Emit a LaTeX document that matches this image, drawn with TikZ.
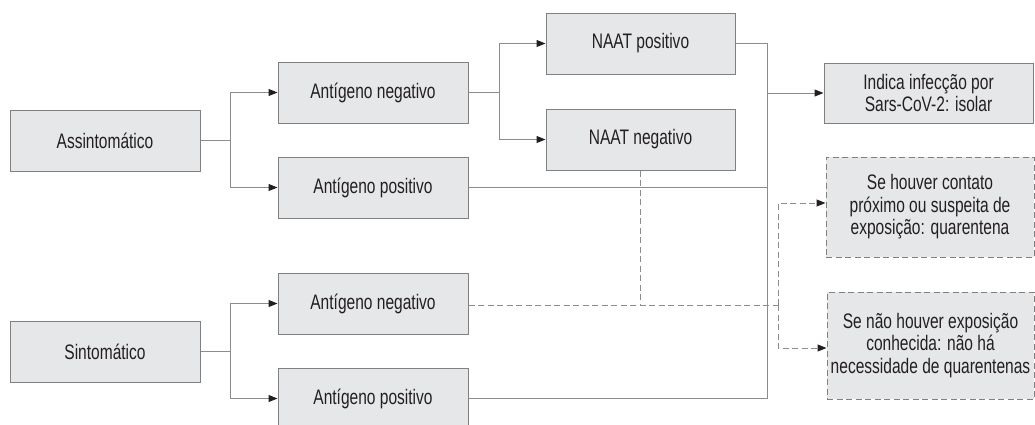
\documentclass[tikz,border=0pt]{standalone}
\usepackage{fontspec}
\setmainfont[FakeStretch=0.74]{Liberation Sans}
\usetikzlibrary{arrows.meta}
\definecolor{boxfill}{HTML}{E6E7E8}
\definecolor{boxline}{HTML}{808080}
\definecolor{wire}{HTML}{8C8C8C}
\definecolor{ink}{HTML}{231F20}
\tikzset{
  stepbox/.style={draw=boxline, fill=boxfill, line width=1pt, inner sep=0pt,
    minimum width=190pt, minimum height=61pt, align=center, text=ink,
    font=\fontsize{21}{22.5}\selectfont},
  dashbox/.style={stepbox, dash pattern=on 6pt off 3.5pt},
  wireline/.style={draw=wire, line width=1pt},
  dashwire/.style={wireline, dash pattern=on 6pt off 3.5pt},
  tip/.style={-{Triangle[length=9pt,width=7pt,color=ink]}}
}
\begin{document}
\begin{tikzpicture}[x=1pt,y=-1pt]
\useasboundingbox (0,0) rectangle (1035,424);

% first column
\node[stepbox] (asym) at (105,140.5) {Assintomático};
\node[stepbox] (sym)  at (105,351.5) {Sintomático};

% antigen results
\node[stepbox] (an1) at (373,92.5)  {Antígeno negativo};
\node[stepbox] (ap1) at (373,187.5) {Antígeno positivo};
\node[stepbox] (an2) at (373,303.5) {Antígeno negativo};
\node[stepbox] (ap2) at (373,398.5) {Antígeno positivo};

% NAAT results
\node[stepbox, minimum width=189pt] (np) at (640.5,43.5)  {NAAT positivo};
\node[stepbox, minimum width=189pt] (nn) at (640.5,139.5) {NAAT negativo};

% outcomes
\node[stepbox, minimum width=209pt, minimum height=60pt] (ind) at (928.5,93)
  {Indica infecção por\\Sars-CoV-2: isolar};
\node[dashbox, minimum width=208pt, minimum height=100pt] (q1) at (930,207)
  {Se houver contato\\próximo ou suspeita de\\exposição: quarentena};
\node[dashbox, minimum width=207pt, minimum height=107pt] (q2) at (930.5,345.5)
  {Se não houver exposição\\conhecida: não há\\necessidade de quarentenas};

% branches from the first column
\draw[wireline] (asym.east) -- ++(30,0) coordinate (b1);
\draw[wireline, tip] (b1) |- (an1.west);
\draw[wireline, tip] (b1) |- (ap1.west);
\draw[wireline] (sym.east) -- ++(30,0) coordinate (b2);
\draw[wireline, tip] (b2) |- (an2.west);
\draw[wireline, tip] (b2) |- (ap2.west);

% negative antigen goes to NAAT
\draw[wireline] (an1.east) -- ++(31,0) coordinate (b3);
\draw[wireline, tip] (b3) |- (np.west);
\draw[wireline, tip] (b3) |- (nn.west);

% positive results join towards isolation
\coordinate (j) at (767,93);
\draw[wireline] (np.east) -| (j);
\draw[wireline] (ap1.east) -| (j);
\draw[wireline] (ap2.east) -| (j);
\draw[wireline, tip] (j) -- (ind.west);

% negative results lead to the quarantine decision
\coordinate (k) at (778,305);
\draw[dashwire] (an2.east |- k) -- (k);
\draw[dashwire] (nn.south) -- (nn.south |- k);
\draw[dashwire, tip] (k) |- ([yshift=4pt]q1.west);
\draw[dashwire, tip] (k) |- ([yshift=-2.5pt]q2.west);
\end{tikzpicture}
\end{document}
